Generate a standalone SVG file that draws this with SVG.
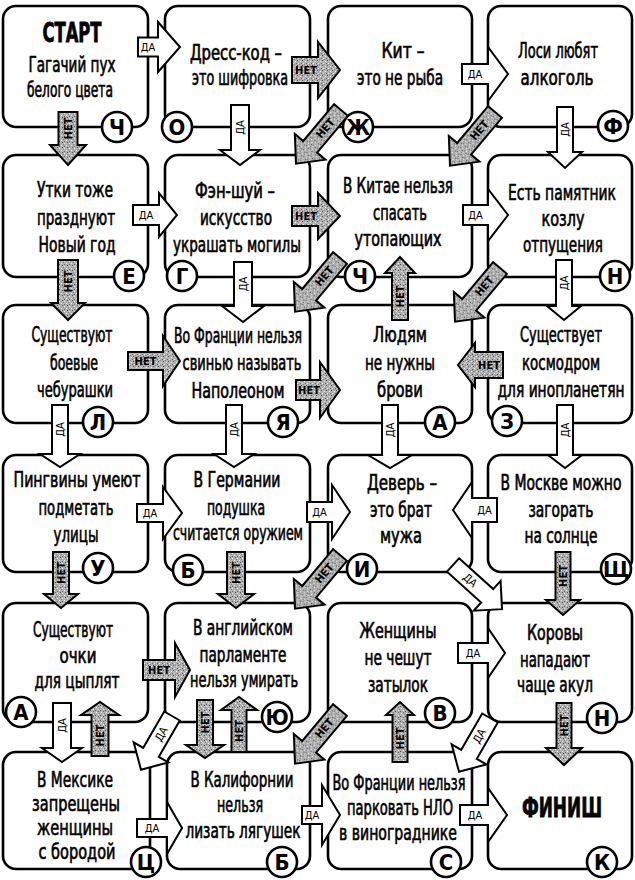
<svg xmlns="http://www.w3.org/2000/svg" width="635" height="880" viewBox="0 0 635 880">
<defs>
<pattern id="stip" width="5" height="5" patternUnits="userSpaceOnUse">
<rect width="5" height="5" fill="#b0b0b0"/>
<rect x="0" y="0" width="1" height="1" fill="#555"/>
<rect x="3" y="1" width="1" height="1" fill="#eee"/>
<rect x="1" y="3" width="1" height="1" fill="#eee"/>
<rect x="4" y="3" width="1" height="1" fill="#666"/>
<rect x="2" y="4" width="1" height="1" fill="#888"/>
</pattern>
<style>
.box{fill:#fff;stroke:#000;stroke-width:2.6}
.t{font-family:"Liberation Sans Narrow","DejaVu Sans Condensed","Liberation Sans",Arial,sans-serif;font-size:21px;text-anchor:middle;fill:#000;stroke:#000;stroke-width:0.65}
.big{font-size:27px;font-weight:bold;stroke-width:0.8}
.c{fill:#fff;stroke:#000;stroke-width:2.6}
.l{font-family:"Liberation Sans Narrow","DejaVu Sans Condensed","Liberation Sans",Arial,sans-serif;font-size:22px;font-weight:bold;text-anchor:middle;fill:#000}
.da path{fill:#fff;stroke:#000;stroke-width:2}
.net path{fill:url(#stip);stroke:#000;stroke-width:2}
.lb{font-family:"Liberation Sans Narrow","DejaVu Sans Condensed","Liberation Sans",Arial,sans-serif;font-size:11px;text-anchor:middle;dominant-baseline:central;fill:#000}
.net .lb{font-weight:bold}
</style>
</defs>

<g id="n-start">
<rect class="box" x="3" y="6" width="145" height="121" rx="13"/>
<text class="t big" x="72" y="42" textLength="59" lengthAdjust="spacingAndGlyphs">СТАРТ</text>
<text class="t" x="72" y="72" textLength="87" lengthAdjust="spacingAndGlyphs">Гагачий пух</text>
<text class="t" x="70" y="97" textLength="86" lengthAdjust="spacingAndGlyphs">белого цвета</text>
<circle class="c" cx="117" cy="127" r="15"/><text class="l" x="117" y="135">Ч</text>
</g>
<g id="n-dress">
<rect class="box" x="165" y="6" width="145" height="121" rx="13"/>
<text class="t" x="236" y="60" textLength="92" lengthAdjust="spacingAndGlyphs">Дресс-код –</text>
<text class="t" x="240" y="85" textLength="96" lengthAdjust="spacingAndGlyphs">это шифровка</text>
<circle class="c" cx="177" cy="127" r="15"/><text class="l" x="177" y="135">О</text>
</g>
<g id="n-kit">
<rect class="box" x="328" y="6" width="144" height="121" rx="13"/>
<text class="t" x="403" y="58" textLength="43" lengthAdjust="spacingAndGlyphs">Кит –</text>
<text class="t" x="400" y="85" textLength="86" lengthAdjust="spacingAndGlyphs">это не рыба</text>
<circle class="c" cx="358" cy="127" r="15"/><text class="l" x="358" y="135">Ж</text>
</g>
<g id="n-losi">
<rect class="box" x="488" y="6" width="144" height="121" rx="13"/>
<text class="t" x="558" y="58" textLength="80" lengthAdjust="spacingAndGlyphs">Лоси любят</text>
<text class="t" x="557" y="85" textLength="73" lengthAdjust="spacingAndGlyphs">алкоголь</text>
<circle class="c" cx="613" cy="126" r="15"/><text class="l" x="613" y="134">Ф</text>
</g>

<g id="n-utki">
<rect class="box" x="3" y="155" width="145" height="122" rx="13"/>
<text class="t" x="75" y="197" textLength="76" lengthAdjust="spacingAndGlyphs">Утки тоже</text>
<text class="t" x="76" y="225" textLength="78" lengthAdjust="spacingAndGlyphs">празднуют</text>
<text class="t" x="77" y="252" textLength="77" lengthAdjust="spacingAndGlyphs">Новый год</text>
<circle class="c" cx="129" cy="276" r="15"/><text class="l" x="129" y="284">Е</text>
</g>
<g id="n-fengshui">
<rect class="box" x="165" y="155" width="145" height="122" rx="13"/>
<text class="t" x="235" y="198" textLength="80" lengthAdjust="spacingAndGlyphs">Фэн-шуй –</text>
<text class="t" x="236" y="225" textLength="72" lengthAdjust="spacingAndGlyphs">искусство</text>
<text class="t" x="237" y="252" textLength="128" lengthAdjust="spacingAndGlyphs">украшать могилы</text>
<circle class="c" cx="182" cy="276" r="15"/><text class="l" x="182" y="284">Г</text>
</g>
<g id="n-china">
<rect class="box" x="328" y="155" width="144" height="122" rx="13"/>
<text class="t" x="398" y="193" textLength="110" lengthAdjust="spacingAndGlyphs">В Китае нельзя</text>
<text class="t" x="400" y="220" textLength="54" lengthAdjust="spacingAndGlyphs">спасать</text>
<text class="t" x="398" y="246" textLength="87" lengthAdjust="spacingAndGlyphs">утопающих</text>
<circle class="c" cx="360" cy="276" r="15"/><text class="l" x="360" y="284">Ч</text>
</g>
<g id="n-kozel">
<rect class="box" x="488" y="155" width="144" height="122" rx="13"/>
<text class="t" x="562" y="200" textLength="108" lengthAdjust="spacingAndGlyphs">Есть памятник</text>
<text class="t" x="563" y="226" textLength="43" lengthAdjust="spacingAndGlyphs">козлу</text>
<text class="t" x="563" y="252" textLength="80" lengthAdjust="spacingAndGlyphs">отпущения</text>
<circle class="c" cx="615" cy="276" r="15"/><text class="l" x="615" y="284">Н</text>
</g>

<g id="n-cheburashki">
<rect class="box" x="3" y="305" width="145" height="118" rx="13"/>
<text class="t" x="72" y="342" textLength="81" lengthAdjust="spacingAndGlyphs">Существуют</text>
<text class="t" x="74" y="370" textLength="48" lengthAdjust="spacingAndGlyphs">боевые</text>
<text class="t" x="75" y="397" textLength="76" lengthAdjust="spacingAndGlyphs">чебурашки</text>
<circle class="c" cx="98" cy="422" r="15"/><text class="l" x="98" y="430">Л</text>
</g>
<g id="n-napoleon">
<rect class="box" x="165" y="305" width="145" height="118" rx="13"/>
<text class="t" x="238" y="343" textLength="128" lengthAdjust="spacingAndGlyphs">Во Франции нельзя</text>
<text class="t" x="242" y="370" textLength="119" lengthAdjust="spacingAndGlyphs">свинью называть</text>
<text class="t" x="238" y="398" textLength="93" lengthAdjust="spacingAndGlyphs">Наполеоном</text>
<circle class="c" cx="283" cy="422" r="15"/><text class="l" x="283" y="430">Я</text>
</g>
<g id="n-brovi">
<rect class="box" x="328" y="305" width="144" height="118" rx="13"/>
<text class="t" x="400" y="342" textLength="54" lengthAdjust="spacingAndGlyphs">Людям</text>
<text class="t" x="400" y="370" textLength="70" lengthAdjust="spacingAndGlyphs">не нужны</text>
<text class="t" x="400" y="397" textLength="46" lengthAdjust="spacingAndGlyphs">брови</text>
<circle class="c" cx="440" cy="422" r="15"/><text class="l" x="440" y="430">А</text>
</g>
<g id="n-kosmodrom">
<rect class="box" x="488" y="305" width="144" height="118" rx="13"/>
<text class="t" x="561" y="342" textLength="82" lengthAdjust="spacingAndGlyphs">Существует</text>
<text class="t" x="561" y="370" textLength="78" lengthAdjust="spacingAndGlyphs">космодром</text>
<text class="t" x="561" y="397" textLength="127" lengthAdjust="spacingAndGlyphs">для инопланетян</text>
<circle class="c" cx="507" cy="421" r="15"/><text class="l" x="507" y="429">З</text>
</g>

<g id="n-pingviny">
<rect class="box" x="3" y="455" width="145" height="117" rx="13"/>
<text class="t" x="77" y="487" textLength="127" lengthAdjust="spacingAndGlyphs">Пингвины умеют</text>
<text class="t" x="76" y="515" textLength="75" lengthAdjust="spacingAndGlyphs">подметать</text>
<text class="t" x="76" y="542" textLength="45" lengthAdjust="spacingAndGlyphs">улицы</text>
<circle class="c" cx="98" cy="568" r="15"/><text class="l" x="98" y="576">У</text>
</g>
<g id="n-podushka">
<rect class="box" x="165" y="455" width="145" height="117" rx="13"/>
<text class="t" x="237" y="487" textLength="87" lengthAdjust="spacingAndGlyphs">В Германии</text>
<text class="t" x="236" y="515" textLength="58" lengthAdjust="spacingAndGlyphs">подушка</text>
<text class="t" x="238" y="540" textLength="130" lengthAdjust="spacingAndGlyphs">считается оружием</text>
<circle class="c" cx="188" cy="570" r="15"/><text class="l" x="188" y="578">Б</text>
</g>
<g id="n-dever">
<rect class="box" x="328" y="455" width="144" height="117" rx="13"/>
<text class="t" x="402" y="490" textLength="70" lengthAdjust="spacingAndGlyphs">Деверь –</text>
<text class="t" x="401" y="517" textLength="62" lengthAdjust="spacingAndGlyphs">это брат</text>
<text class="t" x="401" y="543" textLength="42" lengthAdjust="spacingAndGlyphs">мужа</text>
<circle class="c" cx="362" cy="569" r="15"/><text class="l" x="362" y="577">И</text>
</g>
<g id="n-moskva">
<rect class="box" x="488" y="455" width="144" height="117" rx="13"/>
<text class="t" x="561" y="490" textLength="121" lengthAdjust="spacingAndGlyphs">В Москве можно</text>
<text class="t" x="561" y="517" textLength="65" lengthAdjust="spacingAndGlyphs">загорать</text>
<text class="t" x="561" y="543" textLength="73" lengthAdjust="spacingAndGlyphs">на солнце</text>
<circle class="c" cx="616" cy="569" r="15"/><text class="l" x="616" y="577">Щ</text>
</g>

<g id="n-ochki">
<rect class="box" x="3" y="603" width="145" height="119" rx="13"/>
<text class="t" x="73" y="637" textLength="80" lengthAdjust="spacingAndGlyphs">Существуют</text>
<text class="t" x="78" y="663" textLength="37" lengthAdjust="spacingAndGlyphs">очки</text>
<text class="t" x="77" y="688" textLength="85" lengthAdjust="spacingAndGlyphs">для цыплят</text>
<circle class="c" cx="21" cy="712" r="15"/><text class="l" x="21" y="720">А</text>
</g>
<g id="n-parlament">
<rect class="box" x="165" y="603" width="145" height="119" rx="13"/>
<text class="t" x="243" y="635" textLength="100" lengthAdjust="spacingAndGlyphs">В английском</text>
<text class="t" x="243" y="662" textLength="87" lengthAdjust="spacingAndGlyphs">парламенте</text>
<text class="t" x="244" y="687" textLength="108" lengthAdjust="spacingAndGlyphs">нельзя умирать</text>
<circle class="c" cx="277" cy="717" r="15"/><text class="l" x="277" y="725">Ю</text>
</g>
<g id="n-zhenshchiny">
<rect class="box" x="328" y="603" width="144" height="119" rx="13"/>
<text class="t" x="398" y="638" textLength="77" lengthAdjust="spacingAndGlyphs">Женщины</text>
<text class="t" x="398" y="665" textLength="67" lengthAdjust="spacingAndGlyphs">не чешут</text>
<text class="t" x="398" y="692" textLength="60" lengthAdjust="spacingAndGlyphs">затылок</text>
<circle class="c" cx="440" cy="713" r="15"/><text class="l" x="440" y="721">В</text>
</g>
<g id="n-korovy">
<rect class="box" x="488" y="603" width="144" height="119" rx="13"/>
<text class="t" x="555" y="640" textLength="56" lengthAdjust="spacingAndGlyphs">Коровы</text>
<text class="t" x="555" y="667" textLength="70" lengthAdjust="spacingAndGlyphs">нападают</text>
<text class="t" x="555" y="692" textLength="76" lengthAdjust="spacingAndGlyphs">чаще акул</text>
<circle class="c" cx="602" cy="718" r="15"/><text class="l" x="602" y="726">Н</text>
</g>

<g id="n-meksika">
<rect class="box" x="3" y="752" width="147" height="117" rx="13"/>
<text class="t" x="75" y="787" textLength="76" lengthAdjust="spacingAndGlyphs">В Мексике</text>
<text class="t" x="76" y="811" textLength="88" lengthAdjust="spacingAndGlyphs">запрещены</text>
<text class="t" x="75" y="835" textLength="76" lengthAdjust="spacingAndGlyphs">женщины</text>
<text class="t" x="77" y="859" textLength="77" lengthAdjust="spacingAndGlyphs">с бородой</text>
<circle class="c" cx="146" cy="862" r="15"/><text class="l" x="146" y="870">Ц</text>
</g>
<g id="n-kalifornia">
<rect class="box" x="167" y="752" width="143" height="117" rx="13"/>
<text class="t" x="242" y="787" textLength="103" lengthAdjust="spacingAndGlyphs">В Калифорнии</text>
<text class="t" x="240" y="812" textLength="46" lengthAdjust="spacingAndGlyphs">нельзя</text>
<text class="t" x="243" y="838" textLength="115" lengthAdjust="spacingAndGlyphs">лизать лягушек</text>
<circle class="c" cx="282" cy="862" r="15"/><text class="l" x="282" y="870">Б</text>
</g>
<g id="n-nlo">
<rect class="box" x="328" y="752" width="144" height="117" rx="13"/>
<text class="t" x="399" y="790" textLength="133" lengthAdjust="spacingAndGlyphs">Во Франции нельзя</text>
<text class="t" x="400" y="815" textLength="106" lengthAdjust="spacingAndGlyphs">парковать НЛО</text>
<text class="t" x="398" y="840" textLength="118" lengthAdjust="spacingAndGlyphs">в винограднике</text>
<circle class="c" cx="446" cy="862" r="15"/><text class="l" x="446" y="870">С</text>
</g>
<g id="n-finish">
<rect class="box" x="488" y="752" width="144" height="117" rx="13"/>
<text class="t big" x="562" y="817" textLength="80" lengthAdjust="spacingAndGlyphs">ФИНИШ</text>
<circle class="c" cx="602" cy="862" r="15"/><text class="l" x="602" y="870">К</text>
</g>

<g id="connectors">
<g class="da" transform="translate(138,47)"><path d="M0,-9.5H20V-25L42,0L20,25V9.5H0Z"/><text class="lb" x="10" y="0">ДА</text></g>
<g class="net" transform="translate(292,70)"><path d="M0,-13H26V-28L48,0L26,28V13H0Z"/><text class="lb" x="14" y="0">НЕТ</text></g>
<g class="da" transform="translate(462,74)"><path d="M0,-10H26V-27L46,0L26,27V10H0Z"/><text class="lb" x="13" y="0">ДА</text></g>
<g class="da" transform="translate(133,215)"><path d="M0,-10H26V-22L44,0L26,22V10H0Z"/><text class="lb" x="13" y="0">ДА</text></g>
<g class="net" transform="translate(292,216)"><path d="M0,-10H26V-23L48,0L26,23V10H0Z"/><text class="lb" x="14" y="0">НЕТ</text></g>
<g class="da" transform="translate(463,215)"><path d="M0,-10H25V-26L45,0L25,26V10H0Z"/><text class="lb" x="12.5" y="0">ДА</text></g>
<g class="net" transform="translate(128,361)"><path d="M0,-9H35V-25L52,0L35,25V9H0Z"/><text class="lb" x="17.5" y="0">НЕТ</text></g>
<g class="net" transform="translate(296,390)"><path d="M0,-10H24V-28L44,0L24,28V10H0Z"/><text class="lb" x="13" y="0">НЕТ</text></g>
<g class="net" transform="translate(503,365) rotate(180)"><path d="M0,-13H28V-22L45,0L28,22V13H0Z"/><text class="lb" x="14" y="0" transform="rotate(180,14,0)">НЕТ</text></g>
<g class="da" transform="translate(137,513)"><path d="M0,-9H26V-26L45,0L26,26V9H0Z"/><text class="lb" x="13" y="0">ДА</text></g>
<g class="da" transform="translate(307,512)"><path d="M0,-10H25V-27L43,0L25,27V10H0Z"/><text class="lb" x="12.5" y="0">ДА</text></g>
<g class="da" transform="translate(497,510) rotate(180)"><path d="M0,-12H25V-28L44,0L25,28V12H0Z"/><text class="lb" x="12.5" y="0" transform="rotate(180,12.5,0)">ДА</text></g>
<g class="net" transform="translate(143,670)"><path d="M0,-10H32V-27L47,0L32,27V10H0Z"/><text class="lb" x="16" y="0">НЕТ</text></g>
<g class="da" transform="translate(458,653)"><path d="M0,-10H30V-25L47,0L30,25V10H0Z"/><text class="lb" x="15" y="0">ДА</text></g>
<g class="da" transform="translate(137,828)"><path d="M0,-9H30V-26L45,0L30,26V9H0Z"/><text class="lb" x="15" y="0">ДА</text></g>
<g class="da" transform="translate(302,815)"><path d="M0,-9H20V-30L38,0L20,30V9H0Z"/><text class="lb" x="10" y="0">ДА</text></g>
<g class="da" transform="translate(460,815)"><path d="M0,-10H28V-27L47,0L28,27V10H0Z"/><text class="lb" x="15" y="0">ДА</text></g>
<g class="net" transform="translate(68,112) rotate(90)"><path d="M0,-9.5H33V-18L53,0L33,18V9.5H0Z"/><text class="lb" x="16.5" y="0" transform="rotate(180,16.5,0)">НЕТ</text></g>
<g class="da" transform="translate(240,105) rotate(90)"><path d="M0,-9H45V-20L60,0L45,20V9H0Z"/><text class="lb" x="22.5" y="0" transform="rotate(180,22.5,0)">ДА</text></g>
<g class="da" transform="translate(565,107) rotate(90)"><path d="M0,-8H45V-17L61,0L45,17V8H0Z"/><text class="lb" x="22.5" y="0" transform="rotate(180,22.5,0)">ДА</text></g>
<g class="net" transform="translate(68,260) rotate(90)"><path d="M0,-10H43V-17L60,0L43,17V10H0Z"/><text class="lb" x="21.5" y="0" transform="rotate(180,21.5,0)">НЕТ</text></g>
<g class="da" transform="translate(243,262) rotate(90)"><path d="M0,-9H44V-21L60,0L44,21V9H0Z"/><text class="lb" x="22" y="0" transform="rotate(180,22,0)">ДА</text></g>
<g class="net" transform="translate(400,320) rotate(-90)"><path d="M0,-8H47V-15L63,0L47,15V8H0Z"/><text class="lb" x="23.5" y="0">НЕТ</text></g>
<g class="da" transform="translate(564,260) rotate(90)"><path d="M0,-8H46V-17L60,0L46,17V8H0Z"/><text class="lb" x="23" y="0" transform="rotate(180,23,0)">ДА</text></g>
<g class="da" transform="translate(60,405) rotate(90)"><path d="M0,-8H49V-20L62,0L49,20V8H0Z"/><text class="lb" x="24.5" y="0" transform="rotate(180,24.5,0)">ДА</text></g>
<g class="da" transform="translate(234,405) rotate(90)"><path d="M0,-8H49V-20L62,0L49,20V8H0Z"/><text class="lb" x="24.5" y="0" transform="rotate(180,24.5,0)">ДА</text></g>
<g class="da" transform="translate(390,405) rotate(90)"><path d="M0,-8H50V-22L63,0L50,22V8H0Z"/><text class="lb" x="25" y="0" transform="rotate(180,25,0)">ДА</text></g>
<g class="da" transform="translate(565,405) rotate(90)"><path d="M0,-8H50V-17L63,0L50,17V8H0Z"/><text class="lb" x="25" y="0" transform="rotate(180,25,0)">ДА</text></g>
<g class="net" transform="translate(61,552) rotate(90)"><path d="M0,-8H42V-17L56,0L42,17V8H0Z"/><text class="lb" x="21" y="0" transform="rotate(180,21,0)">НЕТ</text></g>
<g class="net" transform="translate(236,552) rotate(90)"><path d="M0,-9H42V-18L56,0L42,18V9H0Z"/><text class="lb" x="21" y="0" transform="rotate(180,21,0)">НЕТ</text></g>
<g class="net" transform="translate(563,552) rotate(90)"><path d="M0,-7.5H48V-17L63,0L48,17V7.5H0Z"/><text class="lb" x="24" y="0" transform="rotate(180,24,0)">НЕТ</text></g>
<g class="da" transform="translate(62,703) rotate(90)"><path d="M0,-9H45V-20L59,0L45,20V9H0Z"/><text class="lb" x="22.5" y="0" transform="rotate(180,22.5,0)">ДА</text></g>
<g class="net" transform="translate(100,756) rotate(-90)"><path d="M0,-8.5H41V-19L54,0L41,19V8.5H0Z"/><text class="lb" x="20.5" y="0">НЕТ</text></g>
<g class="net" transform="translate(205,700) rotate(90)"><path d="M0,-8H45V-19L58,0L45,19V8H0Z"/><text class="lb" x="22.5" y="0" transform="rotate(180,22.5,0)">НЕТ</text></g>
<g class="net" transform="translate(239,752) rotate(-90)"><path d="M0,-7.5H42V-18L55,0L42,18V7.5H0Z"/><text class="lb" x="21" y="0">НЕТ</text></g>
<g class="net" transform="translate(400,762) rotate(-90)"><path d="M0,-7.5H47V-14L60,0L47,14V7.5H0Z"/><text class="lb" x="23.5" y="0">НЕТ</text></g>
<g class="net" transform="translate(564,703) rotate(90)"><path d="M0,-7.5H45V-18L62,0L45,18V7.5H0Z"/><text class="lb" x="22.5" y="0" transform="rotate(180,22.5,0)">НЕТ</text></g>
<g class="net" transform="translate(341,110) rotate(130)"><path d="M0,-9H48V-20L70,0L48,20V9H0Z"/><text class="lb" x="24" y="0" transform="rotate(180,24,0)">НЕТ</text></g>
<g class="net" transform="translate(495,112) rotate(130)"><path d="M0,-9H48V-20L70,0L48,20V9H0Z"/><text class="lb" x="24" y="0" transform="rotate(180,24,0)">НЕТ</text></g>
<g class="net" transform="translate(340,258) rotate(130)"><path d="M0,-9H48V-20L70,0L48,20V9H0Z"/><text class="lb" x="24" y="0" transform="rotate(180,24,0)">НЕТ</text></g>
<g class="net" transform="translate(500,268) rotate(130)"><path d="M0,-9H48V-20L70,0L48,20V9H0Z"/><text class="lb" x="24" y="0" transform="rotate(180,24,0)">НЕТ</text></g>
<g class="net" transform="translate(340,555) rotate(130)"><path d="M0,-9H48V-20L70,0L48,20V9H0Z"/><text class="lb" x="24" y="0" transform="rotate(180,24,0)">НЕТ</text></g>
<g class="da" transform="translate(453,565) rotate(42)"><path d="M0,-9H46V-20L66,0L46,20V9H0Z"/><text class="lb" x="23" y="0">ДА</text></g>
<g class="da" transform="translate(172,716) rotate(120)"><path d="M0,-9H42V-20L62,0L42,20V9H0Z"/><text class="lb" x="21" y="0" transform="rotate(180,21,0)">ДА</text></g>
<g class="net" transform="translate(340,710) rotate(130)"><path d="M0,-9H48V-20L70,0L48,20V9H0Z"/><text class="lb" x="24" y="0" transform="rotate(180,24,0)">НЕТ</text></g>
<g class="da" transform="translate(490,718) rotate(120)"><path d="M0,-9H42V-20L62,0L42,20V9H0Z"/><text class="lb" x="21" y="0" transform="rotate(180,21,0)">ДА</text></g>
</g>
</svg>
